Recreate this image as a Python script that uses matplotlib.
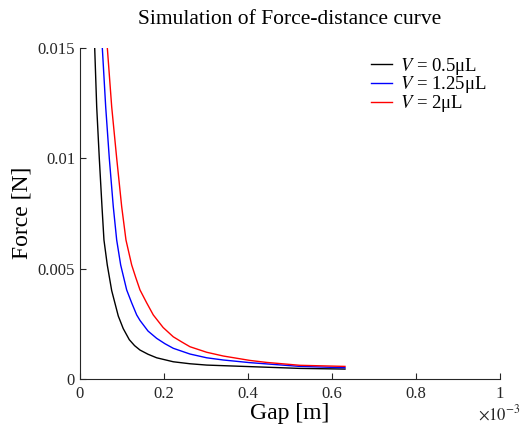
import numpy as np
import matplotlib
matplotlib.use('Agg')
import matplotlib.pyplot as plt

plt.rcParams['font.family'] = ['Liberation Serif', 'DejaVu Serif']
plt.rcParams['mathtext.fontset'] = 'stix'

# gap in 1e-3 m, force in N
gap_05 = [0.0350, 0.0398, 0.0460, 0.0524, 0.0571, 0.0650, 0.0755, 0.0912, 0.1030, 0.1174,
          0.1300, 0.1429, 0.1620, 0.1826, 0.2221, 0.2619, 0.3017, 0.4048, 0.5238, 0.6310]
force_05 = [0.01501, 0.01232, 0.00999, 0.00780, 0.00629, 0.00516, 0.00400, 0.00285, 0.00228, 0.00178,
            0.00151, 0.00131, 0.00112, 0.00096, 0.00078, 0.00069, 0.00063, 0.00056, 0.00048, 0.00045]

gap_125 = [0.0531, 0.0612, 0.0698, 0.0793, 0.0874, 0.0969, 0.1112, 0.1230, 0.1350, 0.1429,
           0.1620, 0.1826, 0.2020, 0.2221, 0.2619, 0.3017, 0.3412, 0.4048, 0.5238, 0.6310]
force_125 = [0.01501, 0.01232, 0.00999, 0.00780, 0.00629, 0.00516, 0.00403, 0.00345, 0.00290, 0.00265,
             0.00217, 0.00184, 0.00160, 0.00139, 0.00113, 0.00096, 0.00086, 0.00074, 0.00057, 0.00051]

gap_2 = [0.0650, 0.0755, 0.0874, 0.0993, 0.1095, 0.1231, 0.1330, 0.1429, 0.1587, 0.1745,
         0.1980, 0.2221, 0.2420, 0.2619, 0.3017, 0.3412, 0.4048, 0.4445, 0.5238, 0.6310]
force_2 = [0.01501, 0.01232, 0.00999, 0.00780, 0.00629, 0.00516, 0.00458, 0.00403, 0.00345, 0.00290,
           0.00233, 0.00191, 0.00168, 0.00146, 0.00121, 0.00104, 0.00084, 0.00075, 0.00062, 0.00057]

labels = [r'$V$ = 0.5μL', r'$V$ = 1.25μL', r'$V$ = 2μL']
colors = ['k', '#0000ff', '#ff0000']

xticks = [0, 0.2e-3, 0.4e-3, 0.6e-3, 0.8e-3, 1e-3]
xtick_labels = ['0', '0.2', '0.4', '0.6', '0.8', '1']
yticks = [0, 0.005, 0.01, 0.015]
ytick_labels = ['0', '0.005', '0.01', '0.015']

fig = plt.figure(figsize=(5.2, 4.33), dpi=100)
ax = fig.add_axes([0.1538, 0.1247, 0.8077, 0.7656])

for g, f, lab, c in zip([gap_05, gap_125, gap_2], [force_05, force_125, force_2], labels, colors):
    ax.plot(np.array(g) * 1e-3, f, color=c, lw=1.0, label=lab)

ax.set_xlim(0, 1e-3)
ax.set_ylim(0, 0.015)
ax.set_xticks(xticks)
ax.set_xticklabels(xtick_labels)
ax.set_yticks(yticks)
ax.set_yticklabels(ytick_labels)

for s in ['top', 'right']:
    ax.spines[s].set_visible(False)
for s in ['left', 'bottom']:
    ax.spines[s].set_color('#262626')
ax.tick_params(direction='in', length=4, labelsize=12, colors='#262626')
ax.tick_params(axis='x', pad=5)

# exponent label under the right end of the x axis
fig.text(0.919, 0.031, r'$\times10^{-3}$', fontsize=12, color='#262626', va='baseline')

ax.set_title('Simulation of Force-distance curve', fontsize=15.5, pad=17)
ax.set_xlabel('Gap [m]', fontsize=17, labelpad=1)
ax.set_ylabel('Force [N]', fontsize=17, labelpad=4)

ax.legend(loc='upper left', bbox_to_anchor=(0.695, 0.893), bbox_transform=fig.transFigure,
          frameon=False, fontsize=13.5, handlelength=1.15, handletextpad=0.42,
          labelspacing=-0.12, borderpad=0)

fig.savefig('out.png', dpi=100)
